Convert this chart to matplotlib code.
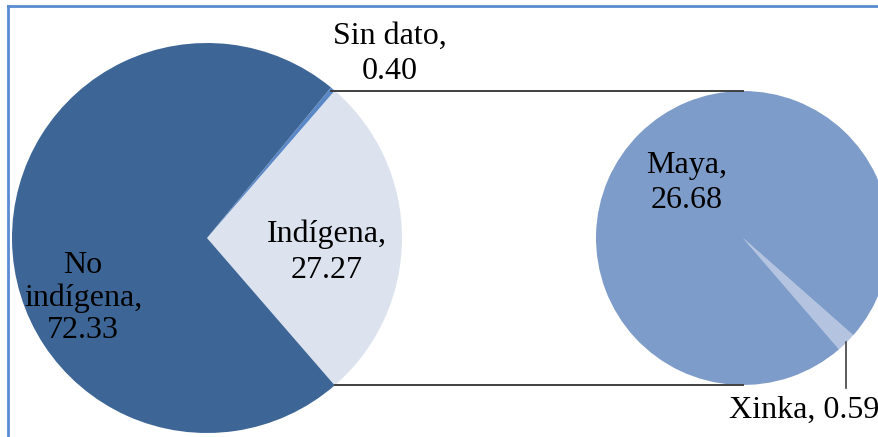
import numpy as np
import matplotlib
matplotlib.use("Agg")
import matplotlib.pyplot as plt
from matplotlib.lines import Line2D

plt.rcParams.update({"font.family": ["Liberation Serif", "DejaVu Serif"], "font.size": 23})

# ---- data -------------------------------------------------------------------
main_labels = ["Indígena", "Sin dato", "No\nindígena"]
main_values = [27.27, 0.40, 72.33]
main_colors = ["#DCE3EF", "#5A88C6", "#3D6696"]

sub_labels = ["Xinka", "Maya"]
sub_values = [0.59, 26.68]
sub_colors = ["#B3C3E0", "#7E9CC9"]

W, H = 879, 437
fig = plt.figure(figsize=(W / 100, H / 100), dpi=100)
ax = fig.add_axes([0, 0, 1, 1])

# pixel-like coordinates (y measured upward)
c1, r1 = (207, H - 238), 195
c2, r2 = (743, H - 238), 147

start1 = -main_values[0] * 3.6 / 2
ax.pie(main_values, colors=main_colors, startangle=start1, counterclock=True,
       center=c1, radius=r1, wedgeprops=dict(linewidth=0))
start2 = -49.2
ax.pie(sub_values, colors=sub_colors, startangle=start2, counterclock=True,
       center=c2, radius=r2, wedgeprops=dict(linewidth=0))

# connector lines from the split group to the secondary pie
top_ang = np.radians(start1 + (main_values[0] + main_values[1]) * 3.6)
bot_ang = np.radians(start1)
ax.plot([c1[0] + r1 * np.cos(top_ang), c2[0]], [c2[1] + r2, c2[1] + r2],
        color="#404040", lw=1.4)
ax.plot([c1[0] + r1 * np.cos(bot_ang), c2[0]], [c2[1] - r2, c2[1] - r2],
        color="#404040", lw=1.4)

# labels
ax.text(390, H - 54, f"Sin dato,\n{main_values[1]:.2f}", ha="center", va="center", linespacing=1.3)
ax.text(327, H - 252, f"Indígena,\n{main_values[0]:.2f}", ha="center", va="center", linespacing=1.3)
ax.text(83, H - 298, f"No\nindígena,\n{main_values[2]:.2f}", ha="center", va="center", linespacing=1.15)
ax.text(687, H - 183, f"Maya,\n{sub_values[1]:.2f}", ha="center", va="center", linespacing=1.3)
ax.text(804, H - 410, f"Xinka, {sub_values[0]:.2f}", ha="center", va="center")
# Xinka leader line
xa = np.radians(start2 + sub_values[0] / sum(sub_values) * 180)
lx = c2[0] + r2 * np.cos(xa)
ax.plot([lx, lx], [c2[1] + r2 * np.sin(xa), H - 388], color="#404040", lw=1.2)

ax.set_xlim(0, W)
ax.set_ylim(0, H)
ax.set_aspect("auto")
ax.axis("off")

# chart frame (only top and left edges visible)
fig.add_artist(Line2D([8 / W, 1], [1 - 6 / H, 1 - 6 / H], color="#5B8BD0", lw=2))
fig.add_artist(Line2D([8 / W, 8 / W], [0, 1 - 6 / H], color="#5B8BD0", lw=2))

fig.savefig("out.png", dpi=100)
